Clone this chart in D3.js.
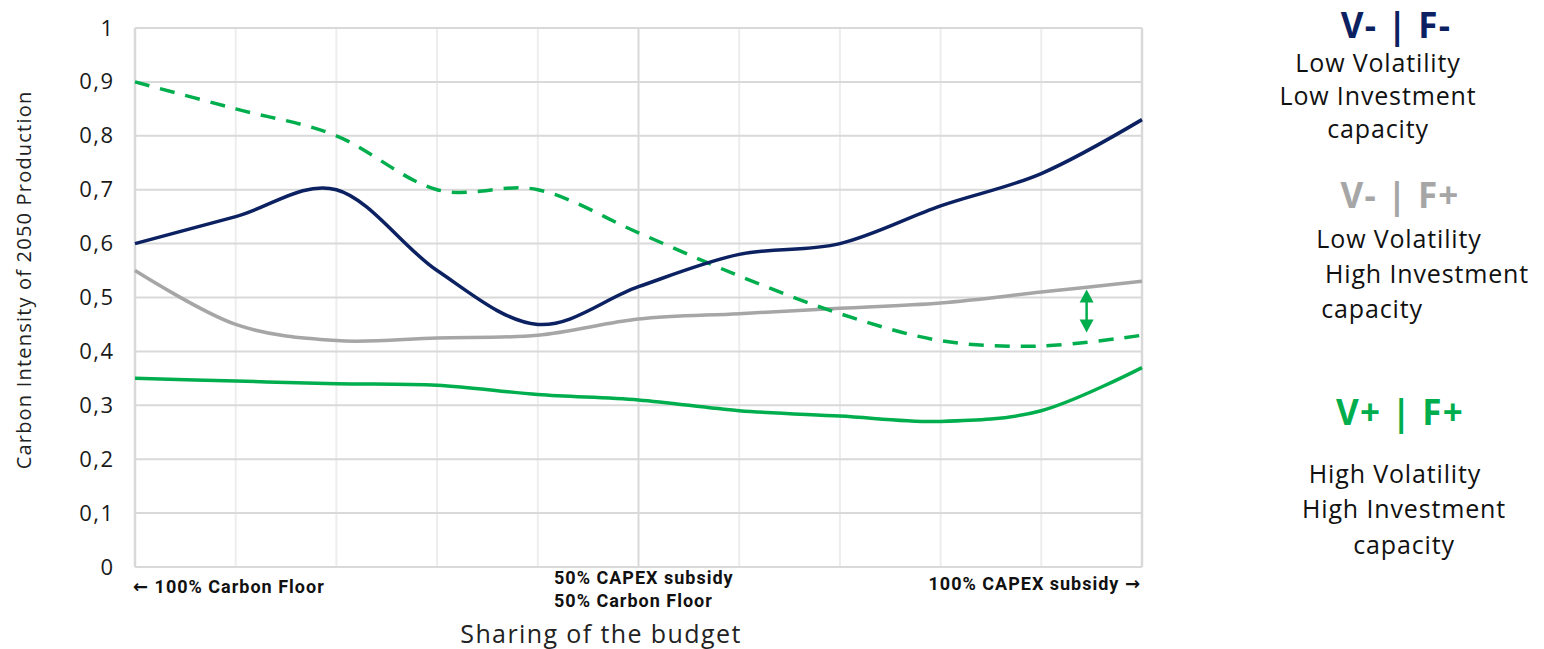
<!DOCTYPE html>
<html>
<head>
<meta charset="utf-8">
<script src="https://cdn.jsdelivr.net/npm/d3@7"></script>
<style>
  html, body { margin: 0; padding: 0; background: #fff; }
  svg { display: block; }
</style>
</head>
<body>
<svg id="chart" width="1544" height="649"></svg>
<script>
// Budget split steps: 0 = 100% carbon floor ... 10 = 100% CAPEX subsidy
const steps = [0, 1, 2, 3, 4, 5, 6, 7, 8, 9, 10];

// Carbon intensity of 2050 production per scenario
const lowVolLowInv  = [0.60, 0.65, 0.70, 0.55, 0.45, 0.52, 0.58, 0.60, 0.67, 0.73, 0.83]; // V- | F-
const lowVolHighInv = [0.55, 0.45, 0.42, 0.425, 0.43, 0.46, 0.47, 0.48, 0.49, 0.51, 0.53]; // V- | F+
const highVolHighInv = [0.35, 0.345, 0.34, 0.337, 0.32, 0.31, 0.29, 0.28, 0.27, 0.29, 0.37]; // V+ | F+
const highVolDashed = [0.90, 0.85, 0.80, 0.70, 0.70, 0.62, 0.54, 0.47, 0.42, 0.41, 0.43];    // V+ | F+ (dashed)

const yTicks = [0, 0.1, 0.2, 0.3, 0.4, 0.5, 0.6, 0.7, 0.8, 0.9, 1];
const yTickLabels = ["0", "0,1", "0,2", "0,3", "0,4", "0,5", "0,6", "0,7", "0,8", "0,9", "1"];

// Gap highlighted by the double arrow (from the dashed curve up to the grey curve)
const gapStep = 9.45;
const gapRange = [0.435, 0.515];

const colors = { navy: "#0B2161", grey: "#A6A6A6", green: "#00AE4D" };

const svg = d3.select("#chart");
const plotLeft = 135, plotRight = 1142, plotTop = 28, plotBottom = 567;

const x = d3.scaleLinear().domain([0, 10]).range([plotLeft, plotRight]);
const y = d3.scaleLinear().domain([0, 1]).range([plotBottom, plotTop]);

const font = "'Open Sans', 'Noto Sans', sans-serif";

// Grid
const grid = svg.append("g");
grid.selectAll("line.v").data(steps).join("line")
  .attr("x1", d => x(d)).attr("x2", d => x(d))
  .attr("y1", plotTop).attr("y2", plotBottom)
  .attr("stroke", d => (d === 0 || d === 5 || d === 10) ? "#D9D9D9" : "#EDEDED")
  .attr("stroke-width", d => (d === 0 || d === 10) ? 2.5 : 2);
grid.selectAll("line.h").data(yTicks).join("line")
  .attr("x1", plotLeft).attr("x2", plotRight)
  .attr("y1", d => y(d)).attr("y2", d => y(d))
  .attr("stroke", "#D9D9D9").attr("stroke-width", 2);

// Y axis tick labels
const yAxis = d3.axisLeft(y).tickValues(yTicks)
  .tickFormat((d, i) => yTickLabels[i]).tickSize(0).tickPadding(20.5);
const yg = svg.append("g").attr("transform", `translate(${plotLeft},0)`).call(yAxis);
yg.select(".domain").remove();
yg.selectAll("text").attr("font-family", font).attr("font-size", 22)
  .attr("letter-spacing", 1.5).attr("fill", "#1a1a1a");

// Curves
const line = d3.line()
  .x((d, i) => x(steps[i]))
  .y(d => y(d))
  .curve(d3.curveCardinal.tension(0));

const series = [
  { values: highVolHighInv, color: colors.green, dash: null },
  { values: lowVolHighInv, color: colors.grey, dash: null },
  { values: highVolDashed, color: colors.green, dash: "15,11" },
  { values: lowVolLowInv, color: colors.navy, dash: null }
];
svg.append("g").selectAll("path").data(series).join("path")
  .attr("d", d => line(d.values))
  .attr("fill", "none")
  .attr("stroke", d => d.color)
  .attr("stroke-width", 3.5)
  .attr("stroke-dasharray", d => d.dash);

// Double-headed arrow
const ax = x(gapStep), ay1 = y(gapRange[1]), ay2 = y(gapRange[0]);
const arrow = svg.append("g").attr("fill", colors.green);
arrow.append("line").attr("x1", ax).attr("x2", ax).attr("y1", ay1 + 8).attr("y2", ay2 - 8)
  .attr("stroke", colors.green).attr("stroke-width", 2.5);
arrow.append("path").attr("d", `M${ax},${ay1} L${ax - 7},${ay1 + 13} L${ax + 7},${ay1 + 13} Z`);
arrow.append("path").attr("d", `M${ax},${ay2} L${ax - 7},${ay2 - 13} L${ax + 7},${ay2 - 13} Z`);

// X axis annotations
const xlab = svg.append("g").attr("font-family", "Roboto, sans-serif").attr("font-weight", 700)
  .attr("font-size", 18).attr("letter-spacing", 1.0).attr("fill", "#111");
const leftNote = xlab.append("text").attr("x", plotLeft - 2).attr("y", 593);
leftNote.append("tspan").attr("font-family", "'DejaVu Sans', sans-serif").attr("font-size", 18).text("\u2190");
leftNote.append("tspan").text(" 100% Carbon Floor");
xlab.append("text").attr("x", 554).attr("y", 584).text("50% CAPEX subsidy");
xlab.append("text").attr("x", 554).attr("y", 607).text("50% Carbon Floor");
const rightNote = xlab.append("text").attr("x", plotRight - 1).attr("y", 590).attr("text-anchor", "end");
rightNote.append("tspan").text("100% CAPEX subsidy ");
rightNote.append("tspan").attr("font-family", "'DejaVu Sans', sans-serif").attr("font-size", 18).text("\u2192");

svg.append("text").attr("x", 601).attr("y", 643).attr("text-anchor", "middle")
  .attr("font-family", font).attr("font-size", 25).attr("letter-spacing", 1.4).attr("fill", "#222")
  .text("Sharing of the budget");

svg.append("text").attr("transform", "translate(31,280) rotate(-90)").attr("text-anchor", "middle")
  .attr("font-family", font).attr("font-size", 20).attr("letter-spacing", 1.2).attr("fill", "#222")
  .text("Carbon Intensity of 2050 Production");

// Scenario legend
const legend = [
  { title: "V- | F-", color: colors.navy, tx: 1396, ty: 38,
    lines: [["Low Volatility", 1378, 72], ["Low Investment", 1378, 105], ["capacity", 1378, 138]] },
  { title: "V- | F+", color: colors.grey, tx: 1400, ty: 208,
    lines: [["Low Volatility", 1399, 248], ["High Investment", 1427, 283], ["capacity", 1372, 318]] },
  { title: "V+ | F+", color: colors.green, tx: 1400, ty: 425,
    lines: [["High Volatility", 1395, 483], ["High Investment", 1404, 518], ["capacity", 1404, 554]] }
];
const lg = svg.append("g");
legend.forEach(item => {
  lg.append("text").attr("x", item.tx).attr("y", item.ty).attr("text-anchor", "middle")
    .attr("font-family", font).attr("font-weight", 700).attr("font-size", 35)
    .attr("letter-spacing", 1.2).attr("fill", item.color).text(item.title);
  item.lines.forEach(([t, lx, ly]) => {
    lg.append("text").attr("x", lx).attr("y", ly).attr("text-anchor", "middle")
      .attr("font-family", font).attr("font-size", 25).attr("letter-spacing", 0.85)
      .attr("fill", "#111").text(t);
  });
});
</script>
</body>
</html>
